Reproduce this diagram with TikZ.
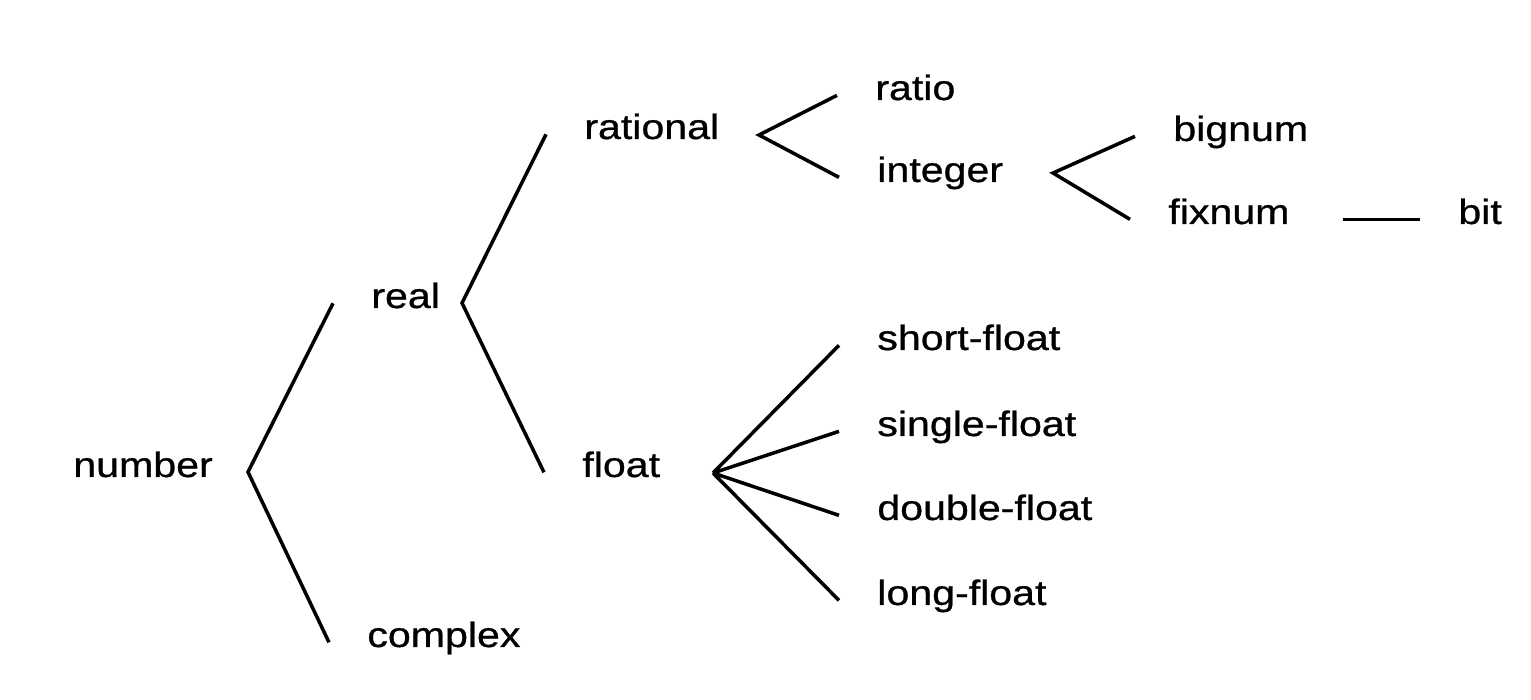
\documentclass[tikz,border=0pt]{standalone}
\usepackage{fontspec}
\setmainfont{Liberation Sans}[FakeStretch=1.17, FakeBold=0.8]
\usepackage{tikz}

\begin{document}
\begin{tikzpicture}[
    typeName/.style = {inner sep = 0pt , inner xsep = 0.76cm , anchor = base west , xshift = -0.76cm ,
        font = \fontsize{20pt}{24pt}\selectfont},
    branch/.style = {line width = 2pt , black}
]
    \useasboundingbox (0,0) rectangle (30.62,14);

    % Noms des types
    \node[typeName] (number)  at (1.46,4.46) {number};
    \node[typeName] (real)    at (7.42,7.84) {real};
    \node[typeName] (complex) at (7.34,1.06) {complex};
    \node[typeName] (rational) at (11.68,11.22) {rational};
    \node[typeName] (float)   at (11.64,4.46) {float};
    \node[typeName] (ratio)   at (17.50,12.00) {ratio};
    \node[typeName] (integer) at (17.54,10.36) {integer};
    \node[typeName] (bignum)  at (23.46,11.18) {bignum};
    \node[typeName] (fixnum)  at (23.36,9.52) {fixnum};
    \node[typeName] (bit)     at (29.16,9.52) {bit};
    \node[typeName] (shortFloat)  at (17.54,7.00) {short-float};
    \node[typeName] (singleFloat) at (17.54,5.28) {single-float};
    \node[typeName] (doubleFloat) at (17.54,3.60) {double-float};
    \node[typeName] (longFloat)   at (17.54,1.90) {long-float};

    % Points de branchement
    \coordinate (forkNumber)   at (4.96,4.56);
    \coordinate (forkReal)     at (9.24,7.94);
    \coordinate (forkRational) at (15.18,11.30);
    \coordinate (forkInteger)  at (21.06,10.54);
    \coordinate (forkFloat)    at (14.26,4.54);

    % Branches
    \draw[branch] (real.mid west) -- (forkNumber) -- (complex.mid west);
    \draw[branch] (rational.mid west) -- (forkReal) -- (float.mid west);
    \draw[branch] (ratio.mid west) -- (forkRational) -- (integer.mid west);
    \draw[branch] (bignum.mid west) -- (forkInteger) -- (fixnum.mid west);
    \draw[branch] (forkFloat) -- (shortFloat.mid west)
                  (forkFloat) -- (singleFloat.mid west)
                  (forkFloat) -- (doubleFloat.mid west)
                  (forkFloat) -- (longFloat.mid west);
    \draw[branch , shorten <= 0.3cm] (fixnum.mid east) -- (bit.mid west);
\end{tikzpicture}
\end{document}
